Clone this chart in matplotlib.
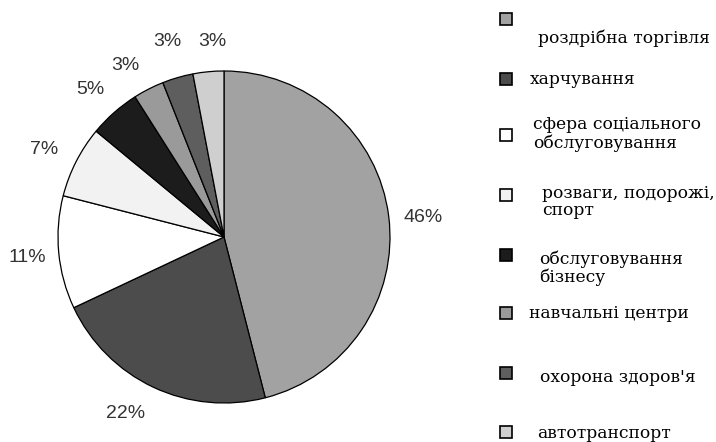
import matplotlib.pyplot as plt
from matplotlib.patches import Rectangle

plt.rcParams["font.family"] = ["Liberation Sans", "DejaVu Sans"]

# частки секторів, %
labels = ["роздрібна торгівля", "харчування", "сфера соціального\nобслуговування",
          "розваги, подорожі,\nспорт", "обслуговування\nбізнесу", "навчальні центри",
          "охорона здоров'я", "автотранспорт"]
shares = [46, 22, 11, 7, 5, 3, 3, 3]
colors = ["#a2a2a2", "#4c4c4c", "#ffffff", "#f2f2f2", "#1c1c1c", "#9a9a9a", "#5e5e5e", "#cfcfcf"]

# невеликі зсуви підписів (пікселі), як розставив Excel
nudge_x = [1, -14, 2, -2, -2, -8, -1, 7]
nudge_y = [-5, 4, -2, -3, -2, -6, 4, -3]

fig = plt.figure(figsize=(7.16, 4.42), dpi=100)
ax = fig.add_axes([0, 0, 1, 1])

wedges, texts, autotexts = ax.pie(
    shares, colors=colors, startangle=90, counterclock=False,
    center=(224, 205), radius=166, frame=True,
    autopct="%d%%", pctdistance=1.2,
    wedgeprops=dict(edgecolor="black", linewidth=0.9),
    textprops=dict(fontsize=14, color="#333333"))
for t, dx, dy in zip(autotexts, nudge_x, nudge_y):
    x, y = t.get_position()
    t.set_position((x + dx, y + dy))

ax.set_xlim(0, 716)
ax.set_ylim(0, 442)
ax.set_aspect("equal")
ax.axis("off")

# легенда (вручну, нерівні відступи як в оригіналі)
mark_y = [19, 79, 135, 195, 255, 313, 373, 432]
text_x = [538, 530, 533, 542, 539, 529, 540, 537]
text_y = [38, 79, 134, 202, 268, 313, 378, 433]
for i in range(len(labels)):
    y = 442 - mark_y[i]
    ax.add_patch(Rectangle((500, y - 6), 12, 12, facecolor=colors[i],
                           edgecolor="black", linewidth=1.2, clip_on=False))
    ax.text(text_x[i], 442 - text_y[i], labels[i], family=["DejaVu Serif"],
            fontsize=12.3, va="center", ha="left", linespacing=1.05)

plt.savefig("out.png", dpi=100)
